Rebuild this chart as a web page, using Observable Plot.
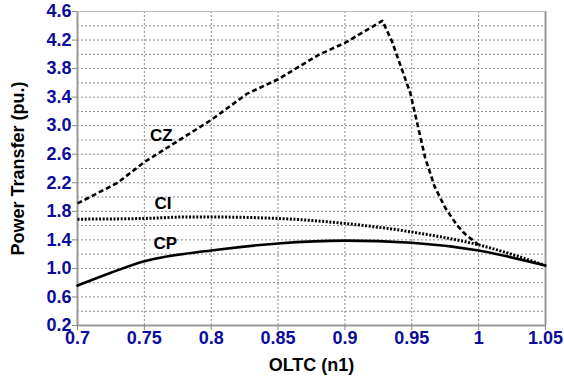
<!DOCTYPE html>
<html>
<head>
<meta charset="utf-8">
<script src="https://cdn.jsdelivr.net/npm/d3@7"></script>
<script src="https://cdn.jsdelivr.net/npm/@observablehq/plot@0.6"></script>
<style>
  html, body { margin: 0; padding: 0; background: #fff; }
  #chart { width: 564px; height: 379px; }
  svg { font-family: "Liberation Sans", Arial, sans-serif; }
</style>
</head>
<body>
<div id="chart"></div>
<script>
// OLTC tap ratio (n1) and power transfer (pu.) for each load model
const czN = [0.70, 0.73, 0.75, 0.80, 0.827, 0.85, 0.88, 0.90, 0.928, 0.935, 0.949, 0.96, 0.967, 0.975, 0.984, 0.99, 1.00];
const czP = [1.91, 2.20, 2.49, 3.08, 3.45, 3.65, 3.99, 4.16, 4.47, 4.19, 3.45, 2.55, 2.15, 1.85, 1.60, 1.48, 1.33];

const ciN = [0.70, 0.75, 0.78, 0.80, 0.85, 0.90, 0.95, 1.00, 1.05];
const ciP = [1.69, 1.70, 1.72, 1.72, 1.70, 1.63, 1.51, 1.33, 1.04];

const cpN = [0.70, 0.725, 0.75, 0.80, 0.85, 0.90, 0.95, 1.00, 1.05];
const cpP = [0.76, 0.94, 1.10, 1.25, 1.35, 1.39, 1.36, 1.25, 1.04];

const labelNames = ["CZ", "CI", "CP"];
const labelN = [0.7627, 0.764, 0.7657];
const labelP = [2.86, 1.91, 1.35];

const xTicks = [0.7, 0.75, 0.8, 0.85, 0.9, 0.95, 1.0, 1.05];
const yTicks = [0.2, 0.6, 1.0, 1.4, 1.8, 2.2, 2.6, 3.0, 3.4, 3.8, 4.2, 4.6];
const yGrid = d3.range(0.2, 4.61, 0.2).map(v => +v.toFixed(1));

const cz = czN.map((n, i) => ({n, p: czP[i]}));
const ci = ciN.map((n, i) => ({n, p: ciP[i]}));
const cp = cpN.map((n, i) => ({n, p: cpP[i]}));
const labels = labelNames.map((t, i) => ({t, n: labelN[i], p: labelP[i]}));

const blue = "#0c0c9c";
const gridColor = "#8a8a8a";

const chart = Plot.plot({
  width: 564,
  height: 379,
  marginLeft: 77,
  marginRight: 19,
  marginTop: 11,
  marginBottom: 54,
  style: {fontFamily: "'Liberation Sans', Arial, sans-serif", background: "#fff"},
  x: {domain: [0.7, 1.05], ticks: xTicks, tickFormat: d => d === 1 ? "1" : String(d), label: null},
  y: {domain: [0.2, 4.6], ticks: yTicks, tickFormat: d3.format(".1f"), label: null},
  marks: [
    Plot.ruleY(yGrid, {stroke: gridColor, strokeWidth: 1, strokeDasharray: "2,2"}),
    Plot.ruleX(xTicks, {stroke: gridColor, strokeWidth: 1, strokeDasharray: "2,2"}),
    Plot.ruleX([0.7, 1.05], {stroke: "#999", strokeWidth: 2}),
    Plot.ruleY([0.2], {stroke: "#999", strokeWidth: 2}),
    Plot.ruleY([4.6], {stroke: "#bbb", strokeWidth: 1}),
    Plot.axisX({ticks: xTicks, tickFormat: d => d === 1 ? "1" : String(d), tickSize: 5, stroke: "#888",
      fill: blue, fontSize: 18, fontWeight: "bold", tickPadding: 1, label: null}),
    Plot.axisY({ticks: yTicks, tickFormat: d3.format(".1f"), tickSize: 5, stroke: "#888",
      fill: blue, fontSize: 18, fontWeight: "bold", tickPadding: 1, label: null}),
    Plot.line(cp, {x: "n", y: "p", stroke: "#000", strokeWidth: 2.6, curve: "monotone-x"}),
    Plot.line(ci, {x: "n", y: "p", stroke: "#000", strokeWidth: 3, strokeDasharray: "2,1.6", strokeLinecap: "butt", curve: "monotone-x"}),
    Plot.line(cz, {x: "n", y: "p", stroke: "#000", strokeWidth: 2.6, strokeDasharray: "5,3", strokeLinecap: "butt"}),
    Plot.text(labels, {x: "n", y: "p", text: "t", fill: "#000", fontSize: 17, fontWeight: "bold"}),
    Plot.text(["OLTC (n1)"], {frameAnchor: "bottom", textAnchor: "middle", dy: 45, fill: "#000", fontSize: 18, fontWeight: "bold"}),
    Plot.text(["Power Transfer (pu.)"], {frameAnchor: "left", textAnchor: "middle", dx: -59, rotate: -90, fill: "#000", fontSize: 18, fontWeight: "bold"})
  ]
});
document.getElementById("chart").appendChild(chart);
</script>
</body>
</html>
